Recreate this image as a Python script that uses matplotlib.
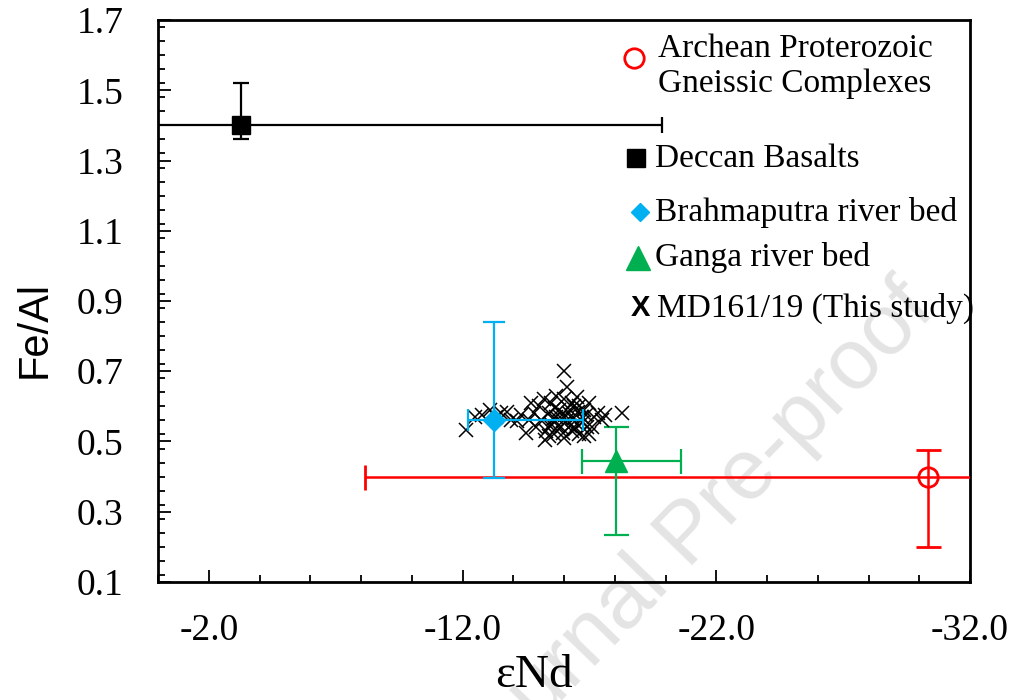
import matplotlib
matplotlib.use("Agg")
import matplotlib.pyplot as plt
from matplotlib.ticker import MultipleLocator, FixedLocator

# end-member values: eNd, Fe/Al, and asymmetric error bar ends
deccan_x, deccan_y = -3.25, 1.40
deccan_xerr = [[16.6], [16.6]]
deccan_yerr = [[0.04], [0.12]]

brahma_x, brahma_y = -13.25, 0.56
brahma_xerr = [[3.5], [1.05]]
brahma_yerr = [[0.165], [0.28]]

ganga_x, ganga_y = -18.05, 0.445
ganga_xerr = [[2.55], [1.35]]
ganga_yerr = [[0.21], [0.095]]

archean_x, archean_y = -30.35, 0.40
archean_xerr = [[22.2], [22.2]]
archean_yerr = [[0.20], [0.077]]

# MD161/19 core samples
md_end = [-12.15, -12.5, -12.75, -13.1, -13.3, -13.5, -13.76, -13.9, -14.14, -14.3,
          -14.5, -14.6, -14.8, -14.9, -15.0, -15.1, -15.26, -15.3, -15.4, -15.5,
          -15.5, -15.6, -15.7, -15.8, -15.9, -15.98, -16.0, -16.0, -16.1, -16.1,
          -16.2, -16.3, -16.4, -16.5, -16.5, -16.6, -16.7, -16.8, -16.9, -17.0,
          -17.1, -17.2, -17.35, -17.5, -17.6, -18.29, -15.2, -15.7, -16.3, -14.7,
          -15.4, -16.8, -17.0, -15.85, -16.25, -16.6, -15.55, -15.75, -16.05, -16.35,
          -16.55, -16.75, -15.65, -15.95, -16.45, -16.15, -15.45, -16.85]
md_feal = [0.533, 0.57, 0.576, 0.59, 0.57, 0.58, 0.585, 0.56, 0.557, 0.575,
           0.524, 0.56, 0.58, 0.54, 0.60, 0.56, 0.505, 0.53, 0.58, 0.61,
           0.55, 0.52, 0.57, 0.59, 0.54, 0.70, 0.62, 0.51, 0.655, 0.56,
           0.58, 0.53, 0.60, 0.628, 0.55, 0.52, 0.57, 0.59, 0.54, 0.61,
           0.542, 0.57, 0.581, 0.56, 0.575, 0.582, 0.62, 0.63, 0.61, 0.61,
           0.515, 0.515, 0.52, 0.57, 0.545, 0.60, 0.565, 0.545, 0.575, 0.565,
           0.585, 0.555, 0.595, 0.525, 0.535, 0.595, 0.545, 0.575]

x_ticks = [-2.0, -12.0, -22.0, -32.0]
y_ticks = [0.1, 0.3, 0.5, 0.7, 0.9, 1.1, 1.3, 1.5, 1.7]

blue = "#00b0f0"
green = "#00b050"
red = "#ff0000"
serif = "Liberation Serif"

fig = plt.figure(figsize=(10.15, 7.0), dpi=100)
ax = fig.add_axes([0.1557, 0.1686, 0.80, 0.8028])
ax.patch.set_alpha(0)

fig.text(0.68, 0.235, "Journal Pre-proof", family="Liberation Sans", fontsize=62,
         color="#e4e4e4", rotation=46, ha="center", va="center", zorder=-1)

ax.errorbar(deccan_x, deccan_y, xerr=deccan_xerr, yerr=deccan_yerr, fmt="s", ms=13,
            color="black", ecolor="black", elinewidth=1.6, capsize=6, capthick=1.6, zorder=4)
ax.errorbar(archean_x, archean_y, xerr=archean_xerr, yerr=archean_yerr, fmt="o", ms=14,
            mfc="none", mec=red, mew=2, ecolor=red, elinewidth=1.8, capsize=9,
            capthick=1.8, zorder=3)
ax.plot(md_end, md_feal, "x", ms=9.5, mew=1.1, color="black", zorder=5)
ax.errorbar(brahma_x, brahma_y, xerr=brahma_xerr, yerr=brahma_yerr, fmt="D", ms=11,
            color=blue, ecolor=blue, elinewidth=1.6, capsize=8, capthick=1.6, zorder=6)
ax.errorbar(ganga_x, ganga_y, xerr=ganga_xerr, yerr=ganga_yerr, fmt="^", ms=16,
            color=green, ecolor=green, elinewidth=1.6, capsize=9, capthick=1.6, zorder=4)

ax.set_xlim(0, -32)
ax.set_ylim(0.1, 1.7)
ax.xaxis.set_major_locator(FixedLocator(x_ticks))
ax.xaxis.set_minor_locator(MultipleLocator(2))
ax.yaxis.set_major_locator(FixedLocator(y_ticks))
ax.yaxis.set_minor_locator(MultipleLocator(0.04))
ax.set_xticklabels([f"{v:.1f}" for v in x_ticks])
ax.set_yticklabels([f"{v:.1f}" for v in y_ticks])
ax.tick_params(which="both", direction="in", width=1.3, top=False, right=False)
ax.tick_params(which="major", length=9)
ax.tick_params(which="minor", length=5)
ax.tick_params(axis="x", which="major", pad=23)
ax.tick_params(axis="y", which="major", pad=25)
for lab in ax.get_xticklabels() + ax.get_yticklabels():
    lab.set_family(serif)
    lab.set_fontsize(27)
for side in ["top", "right", "bottom", "left"]:
    ax.spines[side].set_linewidth(2)

ax.set_xlabel("\u03b5Nd", family=serif, fontsize=34, va="center")
ax.xaxis.set_label_coords(0.463, -0.166)
ax.set_ylabel("Fe/Al", family="Liberation Sans", fontsize=30, va="center")
ax.yaxis.set_label_coords(-0.152, 0.45)

# hand-placed legend, top right
tr = ax.transAxes
ax.plot(0.586, 0.932, "o", ms=14, mfc="none", mec=red, mew=2, transform=tr, clip_on=False)
ax.text(0.616, 0.918, "Archean Proterozoic\nGneissic Complexes", transform=tr,
        family=serif, fontsize=24, va="center", ha="left", linespacing=1.18)
ax.plot(0.589, 0.754, "s", ms=13, color="black", transform=tr)
ax.text(0.612, 0.754, "Deccan Basalts", transform=tr, family=serif, fontsize=24,
        va="center", ha="left")
ax.plot(0.594, 0.658, "D", ms=9, color=blue, transform=tr)
ax.text(0.612, 0.658, "Brahmaputra river bed", transform=tr, family=serif, fontsize=24,
        va="center", ha="left")
ax.plot(0.591, 0.577, "^", ms=17, color=green, transform=tr)
ax.text(0.612, 0.577, "Ganga river bed", transform=tr, family=serif, fontsize=24,
        va="center", ha="left")
ax.text(0.594, 0.4875, "X", transform=tr, family="Liberation Sans", fontweight="bold",
        fontsize=21, va="center", ha="center")
ax.text(0.614, 0.4875, "MD161/19 (This study)", transform=tr, family=serif, fontsize=24,
        va="center", ha="left")

fig.savefig("out.png", dpi=100)
